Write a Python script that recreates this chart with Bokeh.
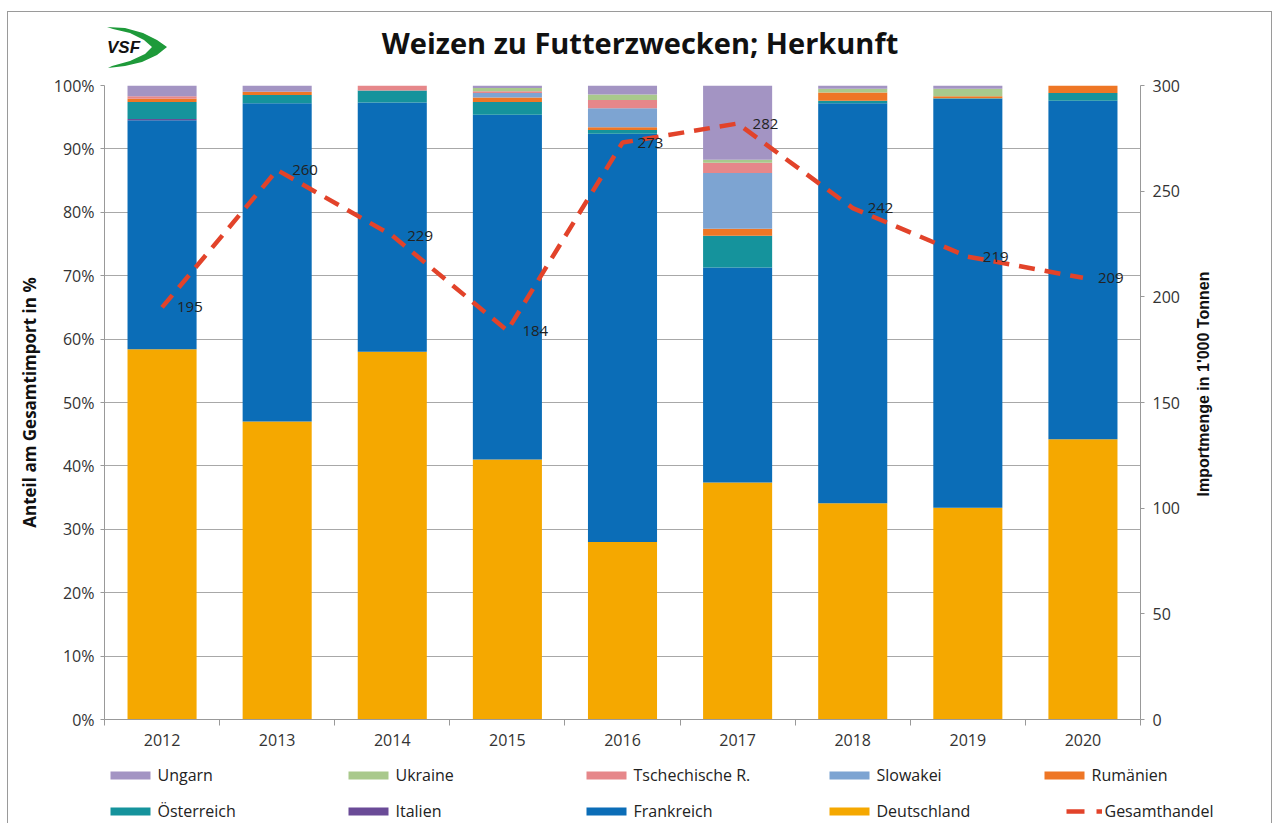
from math import pi
from bokeh.plotting import figure
from bokeh.layouts import column, row
from bokeh.models import (ColumnDataSource, Range1d, LinearAxis, FixedTicker, Label, Legend,
                          LegendItem, PrintfTickFormatter, LabelSet, SingleIntervalTicker)
from bokeh.core.properties import value
from bokeh.embed import file_html
from bokeh.resources import INLINE

# ---------------- data ----------------
years = ["2012", "2013", "2014", "2015", "2016", "2017", "2018", "2019", "2020"]
deutschland = [58.4, 47.0, 58.0, 41.0, 28.0, 37.4, 34.1, 33.4, 44.2]
frankreich = [36.1, 50.2, 39.3, 54.4, 64.4, 33.9, 63.1, 64.5, 53.4]
italien = [0.2, 0.0, 0.0, 0.0, 0.0, 0.0, 0.0, 0.0, 0.0]
oesterreich = [2.7, 1.3, 1.9, 2.0, 0.6, 5.0, 0.4, 0.1, 1.2]
rumaenien = [0.5, 0.5, 0.0, 0.7, 0.4, 1.1, 1.3, 0.3, 1.2]
slowakei = [0.0, 0.0, 0.0, 0.7, 3.0, 8.8, 0.0, 0.0, 0.0]
tschechien = [0.4, 0.0, 0.8, 0.3, 1.3, 1.6, 0.0, 0.0, 0.0]
ukraine = [0.0, 0.0, 0.0, 0.5, 0.9, 0.5, 0.6, 1.2, 0.0]
ungarn = [1.7, 1.0, 0.0, 0.4, 1.4, 11.7, 0.5, 0.5, 0.0]
gesamthandel = [195, 260, 229, 184, 273, 282, 242, 219, 209]

series_keys = ["deutschland", "frankreich", "italien", "oesterreich", "rumaenien",
               "slowakei", "tschechien", "ukraine", "ungarn"]
series_labels = ["Deutschland", "Frankreich", "Italien", "Österreich", "Rumänien",
                 "Slowakei", "Tschechische R.", "Ukraine", "Ungarn"]
series_colors = ["#F5A800", "#0B6DB7", "#6A4B97", "#15939C", "#EE7625",
                 "#7DA4D2", "#E6878A", "#A9C98C", "#A394C3"]
line_color = "#E2432A"

title_text = "Weizen zu Futterzwecken; Herkunft"
left_label = "Anteil am Gesamtimport in %"
right_label = "Importmenge in 1'000 Tonnen"

xpos = [i + 0.5 for i in range(len(years))]

src = ColumnDataSource(dict(
    x=xpos, deutschland=deutschland, frankreich=frankreich, italien=italien,
    oesterreich=oesterreich, rumaenien=rumaenien, slowakei=slowakei,
    tschechien=tschechien, ukraine=ukraine, ungarn=ungarn,
    gesamt=gesamthandel, gesamt_txt=[str(v) for v in gesamthandel],
))

FONT = "Open Sans"
GRAY = "#999999"
W = 1263
W_MAIN = 1183
W_RIGHT = W - W_MAIN
H_HEAD = 62
H_MAIN = 683
H_LEG = 66


def no_align(f):
    if "frame_align" in f.properties():
        f.frame_align = False
    return f


def blank_fig(w, h, x0=0):
    f = figure(width=w, height=h, output_backend="svg", toolbar_location=None,
               x_range=Range1d(x0, x0 + w), y_range=Range1d(0, h), x_axis_type=None,
               y_axis_type=None, min_border=0, outline_line_color=None,
               background_fill_color="white", border_fill_color="white")
    f.xgrid.visible = False
    f.ygrid.visible = False
    return no_align(f)


# ---------------- header (logo + title) ----------------
hdr = blank_fig(W, H_HEAD)
hdr.add_layout(Label(x=631.5, y=32.5, text=title_text, text_align="center",
                     text_baseline="middle", text_font=FONT, text_font_style="bold",
                     text_font_size="29px", text_color="#111111"))
logo_outline = [(107, 27), (125, 28), (143, 33), (157, 40), (167, 47), (157, 55),
                (142, 62), (125, 66), (108, 68), (112, 66), (130, 61), (145, 54),
                (152, 47), (144, 40), (130, 33), (113, 29)]
hdr.patch(x=[px - 8.5 for px, _ in logo_outline],
          y=[H_HEAD - (py - 12.5) for _, py in logo_outline],
          fill_color="#1E9A3A", line_color=None)
hdr.add_layout(Label(x=115, y=H_HEAD - (47 - 12.5), text="VSF", text_align="center",
                     text_baseline="middle", text_font="Liberation Sans",
                     text_font_style="bold italic", text_font_size="17px",
                     text_color="#111111"))

# ---------------- main chart ----------------
p = figure(width=W_MAIN, height=H_MAIN, output_backend="svg", toolbar_location=None,
           x_range=Range1d(0, len(years)), y_range=Range1d(0, 100),
           min_border_left=96, min_border_right=51, min_border_top=11,
           min_border_bottom=38, background_fill_color="white",
           border_fill_color="white", outline_line_color=None)
no_align(p)
p.extra_y_ranges = {"imp": Range1d(0, 300)}

bars = p.vbar_stack(series_keys, x="x", width=0.6, source=src,
                    fill_color=series_colors, line_color=None)

line = p.line(x="x", y="gesamt", source=src, y_range_name="imp",
              line_color=line_color, line_width=4.5, line_dash="16 10")

labels = LabelSet(x="x", y="gesamt", text="gesamt_txt", source=src, y_range_name="imp",
                  x_offset=15, text_baseline="middle", text_align="left",
                  text_font=value(FONT), text_font_size="15px", text_color="#222222")
p.add_layout(labels)

xax = p.xaxis[0]
xax.ticker = FixedTicker(ticks=xpos, minor_ticks=list(range(len(years) + 1)))
xax.major_label_overrides = {x: y for x, y in zip(xpos, years)}
xax.major_tick_out = 0
xax.major_tick_in = 0
xax.minor_tick_out = 6
xax.minor_tick_in = 0
xax.minor_tick_line_color = GRAY
xax.axis_line_color = GRAY
xax.major_label_text_font = FONT
xax.major_label_text_font_size = "16px"
xax.major_label_text_color = "#333333"
xax.major_label_standoff = 8

yax = p.yaxis[0]
yax.ticker = SingleIntervalTicker(interval=10, num_minor_ticks=0)
yax.formatter = PrintfTickFormatter(format="%d%%")
yax.major_tick_out = 4
yax.major_tick_in = 0
yax.minor_tick_out = 0
yax.major_tick_line_color = GRAY
yax.axis_line_color = GRAY
yax.major_label_text_font = FONT
yax.major_label_text_font_size = "16px"
yax.major_label_text_color = "#333333"
yax.major_label_standoff = 6
yax.axis_label = left_label
yax.axis_label_text_font = FONT
yax.axis_label_text_font_style = "bold"
yax.axis_label_text_font_size = "17px"
yax.axis_label_text_color = "#111111"
yax.axis_label_standoff = 10

rax = LinearAxis(y_range_name="imp", ticker=SingleIntervalTicker(interval=50, num_minor_ticks=0))
rax.major_tick_out = 4
rax.major_tick_in = 0
rax.minor_tick_out = 0
rax.major_tick_line_color = GRAY
rax.axis_line_color = GRAY
rax.major_label_text_font = FONT
rax.major_label_text_font_size = "16px"
rax.major_label_text_color = "#333333"
rax.major_label_standoff = 8
p.add_layout(rax, "right")

p.xgrid.visible = False
p.ygrid.ticker = SingleIntervalTicker(interval=10, num_minor_ticks=0)
p.ygrid.grid_line_color = "#A8A8A8"
p.ygrid.grid_line_width = 1

# right-axis title (reads bottom to top, like the reference)
rstrip = blank_fig(W_RIGHT, H_MAIN)
rstrip.add_layout(Label(x=11.5, y=H_MAIN - (384 - 74.5), angle=pi / 2, text=right_label,
                        text_align="center", text_baseline="middle",
                        text_font="Liberation Sans", text_font_style="bold",
                        text_font_size="16px", text_color="#111111"))

# ---------------- legend ----------------
# legend proxies use the real data, but sit outside this strip's visible x range
lfig = blank_fig(W, H_LEG, x0=-3000)
proxy = {}
for key, col in zip(series_keys, series_colors):
    proxy[key] = lfig.vbar(x="x", top=key, width=0.6, source=src, fill_color=col,
                           line_color=None)
proxy["line"] = lfig.line(x="x", y="gesamt", source=src, line_color=line_color,
                          line_width=4.5, line_dash="18 12")
name = dict(zip(series_keys, series_labels))
name["line"] = "Gesamthandel"

# (items, x of glyph box, y of legend bottom, glyph width)
legend_blocks = [
    (["ungarn", "oesterreich"], 96.5, 0.5, 50),
    (["ukraine", "italien"], 334.5, 0.5, 50),
    (["tschechien", "frankreich"], 572.5, 0.5, 50),
    (["slowakei", "deutschland"], 815.5, 0.5, 50),
    (["rumaenien"], 1030.5, 36.5, 50),
    (["line"], 1057.5, 0.5, 36),
]
for keys, cx, cy, gw in legend_blocks:
    leg = Legend(items=[LegendItem(label=name[k], renderers=[proxy[k]]) for k in keys],
                 location=(cx, cy), orientation="vertical", glyph_width=gw,
                 glyph_height=10, label_height=24, spacing=12, padding=0, margin=0,
                 label_standoff=3, border_line_color=None, background_fill_alpha=0,
                 label_text_font=FONT, label_text_font_size="16px",
                 label_text_color="#222222")
    lfig.add_layout(leg)

layout = column(hdr, row(p, rstrip, spacing=0), lfig, spacing=0,
                styles={"margin-left": "7px", "margin-top": "11px",
                        "border-left": "1.5px solid #9A9A9A",
                        "border-right": "1.5px solid #9A9A9A",
                        "border-top": "1.5px solid #9A9A9A"})

open("out.html", "w").write(file_html(layout, INLINE))
